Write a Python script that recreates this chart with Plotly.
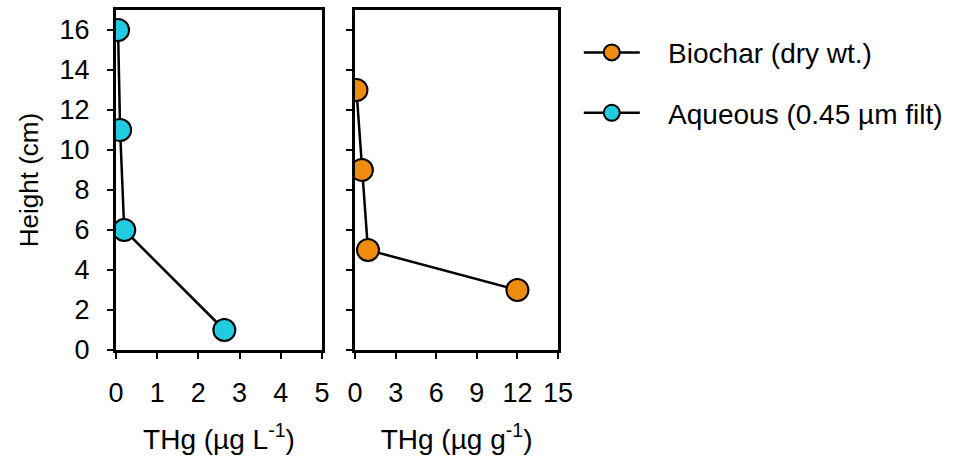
import plotly.graph_objects as go

# Depth profiles of total mercury
aq_thg = [0.05, 0.1, 0.2, 2.63]      # µg L-1
aq_height = [16, 11, 6, 1]           # cm
bc_thg = [0.1, 0.5, 0.95, 12.0]      # µg g-1
bc_height = [13, 9, 5, 3]            # cm

y_ticks = [0, 2, 4, 6, 8, 10, 12, 14, 16]
x1_ticks = [0, 1, 2, 3, 4, 5]
x2_ticks = [0, 3, 6, 9, 12, 15]

FONT = "Liberation Sans, Arial, sans-serif"
ORANGE = "#ee8c10"
CYAN = "#22cce0"
GAP = "\u00a0\u00a0\u00a0"  # spacing between legend symbol and label

fig = go.Figure()
fig.add_trace(go.Scatter(
    x=bc_thg, y=bc_height, xaxis="x2", yaxis="y2", mode="lines+markers",
    name=GAP + "Biochar (dry wt.)", legendgroup="bc",
    line=dict(color="black", width=2.5),
    marker=dict(size=22, color=ORANGE, line=dict(color="black", width=2)),
))
fig.add_trace(go.Scatter(
    x=aq_thg, y=aq_height, xaxis="x", yaxis="y", mode="lines+markers",
    name=GAP + "Aqueous (0.45 \u00b5m filt)", legendgroup="aq",
    line=dict(color="black", width=2.5),
    marker=dict(size=22, color=CYAN, line=dict(color="black", width=2)),
))

axis_common = dict(
    showline=True, linecolor="black", linewidth=3, mirror=True,
    ticks="outside", ticklen=6, tickwidth=2, tickcolor="black",
    showgrid=False, zeroline=False,
    tickfont=dict(family=FONT, size=27, color="black"),
)
title_font = dict(family=FONT, size=28, color="black")

fig.update_layout(
    width=953, height=463,
    margin=dict(l=116, r=395, t=10, b=113, autoexpand=False),
    paper_bgcolor="white", plot_bgcolor="white",
    font=dict(family=FONT, size=27, color="black"),
    xaxis=dict(domain=[0, 0.466], range=[0, 5], tickvals=x1_ticks,
               ticklabelstandoff=11, anchor="y",
               title=dict(text="THg (\u00b5g L<sup>-1</sup>)", standoff=22,
                          font=title_font),
               **axis_common),
    xaxis2=dict(domain=[0.541, 1], range=[0, 15], tickvals=x2_ticks,
                ticklabelstandoff=11, anchor="y2",
                title=dict(text="THg (\u00b5g g<sup>-1</sup>)", standoff=22,
                           font=title_font),
                **axis_common),
    yaxis=dict(range=[0, 17], tickvals=y_ticks, anchor="x",
               ticklabelstandoff=12,
               title=dict(text="Height (cm)", standoff=14,
                          font=dict(family=FONT, size=26, color="black")),
               **axis_common),
    yaxis2=dict(range=[0, 17], tickvals=y_ticks, anchor="x2",
                showticklabels=False, **axis_common),
    legend=dict(x=1.047, y=0.948, xanchor="left", yanchor="top",
                font=dict(family=FONT, size=28, color="black"),
                itemwidth=56, tracegroupgap=21, bgcolor="rgba(0,0,0,0)"),
    showlegend=True,
)

fig.write_html("out.html")
